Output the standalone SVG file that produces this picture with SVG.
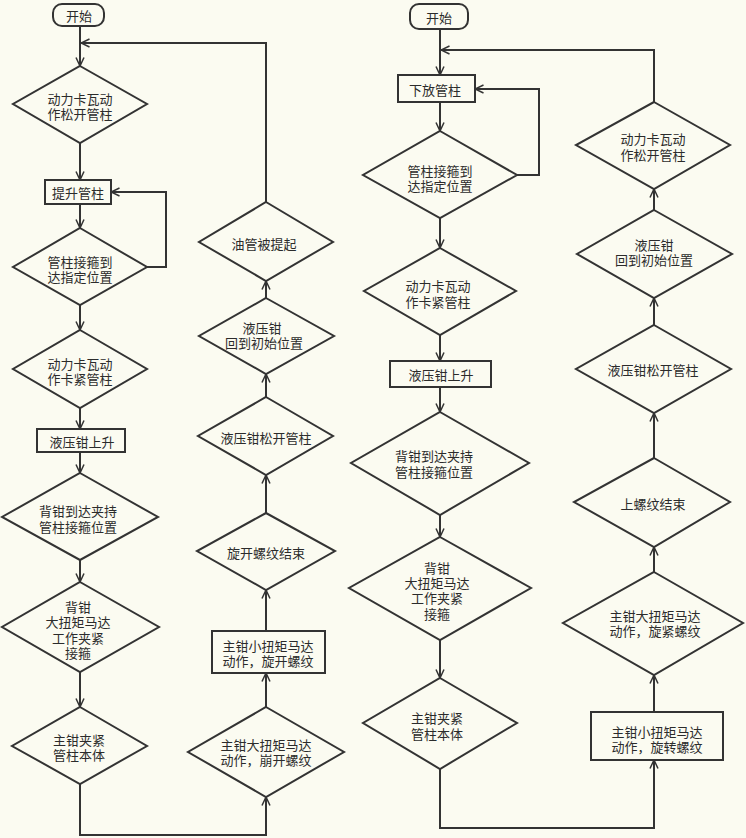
<svg xmlns="http://www.w3.org/2000/svg" width="746" height="838" viewBox="0 0 746 838">
<defs>
<style>
.n{fill:none;stroke:#333;stroke-width:2}
.c{fill:none;stroke:#333;stroke-width:2}
text{font-family:"Noto Sans CJK SC","Noto Sans",sans-serif;font-size:13px;fill:#2b2b2b;text-anchor:middle;dominant-baseline:central}
</style>
<marker id="a" viewBox="0 0 10 10" refX="9.5" refY="5" markerWidth="10" markerHeight="10" markerUnits="userSpaceOnUse" orient="auto">
<path d="M1,1 L9.5,5 L1,9" fill="none" stroke="#333" stroke-width="1.5"/>
</marker>
</defs>
<rect width="746" height="838" fill="#fbfbf1"/>
<g id="connectors">
<path class="c" d="M80,26 V66" marker-end="url(#a)"/>
<path class="c" d="M266,202 V43 H81" marker-end="url(#a)"/>
<path class="c" d="M80,143 V180" marker-end="url(#a)"/>
<path class="c" d="M80,204 V228" marker-end="url(#a)"/>
<path class="c" d="M147,267 H166 V192 H111" marker-end="url(#a)"/>
<path class="c" d="M80,305 V330" marker-end="url(#a)"/>
<path class="c" d="M80,408 V429" marker-end="url(#a)"/>
<path class="c" d="M80,452 V473" marker-end="url(#a)"/>
<path class="c" d="M80,560 V582" marker-end="url(#a)"/>
<path class="c" d="M80,672 V707" marker-end="url(#a)"/>
<path class="c" d="M80,784 V835 H266 V797" marker-end="url(#a)"/>
<path class="c" d="M266,707 V673" marker-end="url(#a)"/>
<path class="c" d="M266,631 V590" marker-end="url(#a)"/>
<path class="c" d="M266,513 V475" marker-end="url(#a)"/>
<path class="c" d="M266,397 V374" marker-end="url(#a)"/>
<path class="c" d="M266,298 V281" marker-end="url(#a)"/>
<path class="c" d="M440,29 V75" marker-end="url(#a)"/>
<path class="c" d="M654,102 V50 H441" marker-end="url(#a)"/>
<path class="c" d="M440,102 V131" marker-end="url(#a)"/>
<path class="c" d="M517,175 H539 V89 H475" marker-end="url(#a)"/>
<path class="c" d="M440,218 V248" marker-end="url(#a)"/>
<path class="c" d="M440,335 V361" marker-end="url(#a)"/>
<path class="c" d="M440,387 V412" marker-end="url(#a)"/>
<path class="c" d="M440,515 V537" marker-end="url(#a)"/>
<path class="c" d="M440,640 V678" marker-end="url(#a)"/>
<path class="c" d="M440,769 V828 H654 V760" marker-end="url(#a)"/>
<path class="c" d="M654,712 V675" marker-end="url(#a)"/>
<path class="c" d="M654,572 V547" marker-end="url(#a)"/>
<path class="c" d="M654,458 V413" marker-end="url(#a)"/>
<path class="c" d="M654,325 V298" marker-end="url(#a)"/>
<path class="c" d="M654,210 V189" marker-end="url(#a)"/>
</g>
<g id="L0"><rect class="n" x="53" y="4" width="51" height="22" rx="9"/><text x="79" y="15">开始</text></g>
<g id="L1"><polygon class="n" points="80,66 147,104 80,143 13,104"/><text x="80" y="98">动力卡瓦动</text><text x="80" y="113">作松开管柱</text></g>
<g id="L2"><rect class="n" x="45" y="180" width="66" height="24"/><text x="78" y="192">提升管柱</text></g>
<g id="L3"><polygon class="n" points="80,228 147,267 80,305 13,267"/><text x="80" y="261">管柱接箍到</text><text x="80" y="276">达指定位置</text></g>
<g id="L4"><polygon class="n" points="80,330 147,369 80,408 13,369"/><text x="80" y="363">动力卡瓦动</text><text x="80" y="378">作卡紧管柱</text></g>
<g id="L5"><rect class="n" x="37" y="429" width="88" height="23"/><text x="82" y="441">液压钳上升</text></g>
<g id="L6"><polygon class="n" points="80,473 158,517 80,560 2,517"/><text x="78" y="510">背钳到达夹持</text><text x="78" y="526">管柱接箍位置</text></g>
<g id="L7"><polygon class="n" points="80,582 159,627 80,672 2,627"/><text x="78" y="606">背钳</text><text x="78" y="621">大扭矩马达</text><text x="78" y="637">工作夹紧</text><text x="78" y="652">接箍</text></g>
<g id="L8"><polygon class="n" points="80,707 147,746 80,784 12,746"/><text x="79" y="739">主钳夹紧</text><text x="79" y="754">管柱本体</text></g>
<g id="M1"><polygon class="n" points="266,707 344,752 266,797 188,752"/><text x="266" y="744">主钳大扭矩马达</text><text x="266" y="759">动作，崩开螺纹</text></g>
<g id="M2"><rect class="n" x="212" y="631" width="113" height="42"/><text x="268" y="645">主钳小扭矩马达</text><text x="268" y="660">动作，旋开螺纹</text></g>
<g id="M3"><polygon class="n" points="266,513 335,551 266,590 197,551"/><text x="266" y="552">旋开螺纹结束</text></g>
<g id="M4"><polygon class="n" points="266,397 333,436 266,475 198,436"/><text x="266" y="437">液压钳松开管柱</text></g>
<g id="M5"><polygon class="n" points="266,298 334,336 266,374 199,336"/><text x="262" y="327">液压钳</text><text x="264" y="342">回到初始位置</text></g>
<g id="M6"><polygon class="n" points="266,202 333,242 266,281 199,242"/><text x="264" y="243">油管被提起</text></g>
<g id="R0"><rect class="n" x="410" y="4" width="58" height="25" rx="9"/><text x="439" y="17">开始</text></g>
<g id="R1"><rect class="n" x="398" y="75" width="77" height="27"/><text x="435" y="89">下放管柱</text></g>
<g id="R2"><polygon class="n" points="440,131 517,175 440,218 363,175"/><text x="440" y="170">管柱接箍到</text><text x="440" y="185">达指定位置</text></g>
<g id="R3"><polygon class="n" points="440,248 516,291 440,335 364,291"/><text x="438" y="285">动力卡瓦动</text><text x="438" y="301">作卡紧管柱</text></g>
<g id="R4"><rect class="n" x="390" y="361" width="101" height="26"/><text x="441" y="374">液压钳上升</text></g>
<g id="R5"><polygon class="n" points="440,412 529,463 440,515 351,463"/><text x="434" y="455">背钳到达夹持</text><text x="434" y="471">管柱接箍位置</text></g>
<g id="R6"><polygon class="n" points="440,537 531,588 440,640 349,588"/><text x="437" y="567">背钳</text><text x="437" y="582">大扭矩马达</text><text x="437" y="597">工作夹紧</text><text x="437" y="613">接箍</text></g>
<g id="R7"><polygon class="n" points="440,678 517,723 440,769 363,723"/><text x="437" y="717">主钳夹紧</text><text x="437" y="733">管柱本体</text></g>
<g id="RR1"><rect class="n" x="591" y="712" width="132" height="48"/><text x="657" y="731">主钳小扭矩马达</text><text x="657" y="746">动作，旋转螺纹</text></g>
<g id="RR2"><polygon class="n" points="654,572 743,623 654,675 563,623"/><text x="655" y="615">主钳大扭矩马达</text><text x="655" y="630">动作，旋紧螺纹</text></g>
<g id="RR3"><polygon class="n" points="654,458 730,502 654,547 574,502"/><text x="653" y="503">上螺纹结束</text></g>
<g id="RR4"><polygon class="n" points="654,325 731,369 654,413 576,369"/><text x="653" y="369">液压钳松开管柱</text></g>
<g id="RR5"><polygon class="n" points="654,210 732,254 654,298 577,254"/><text x="654" y="244">液压钳</text><text x="654" y="259">回到初始位置</text></g>
<g id="RR6"><polygon class="n" points="654,102 730,145 654,189 576,145"/><text x="653" y="138">动力卡瓦动</text><text x="653" y="154">作松开管柱</text></g>
</svg>
